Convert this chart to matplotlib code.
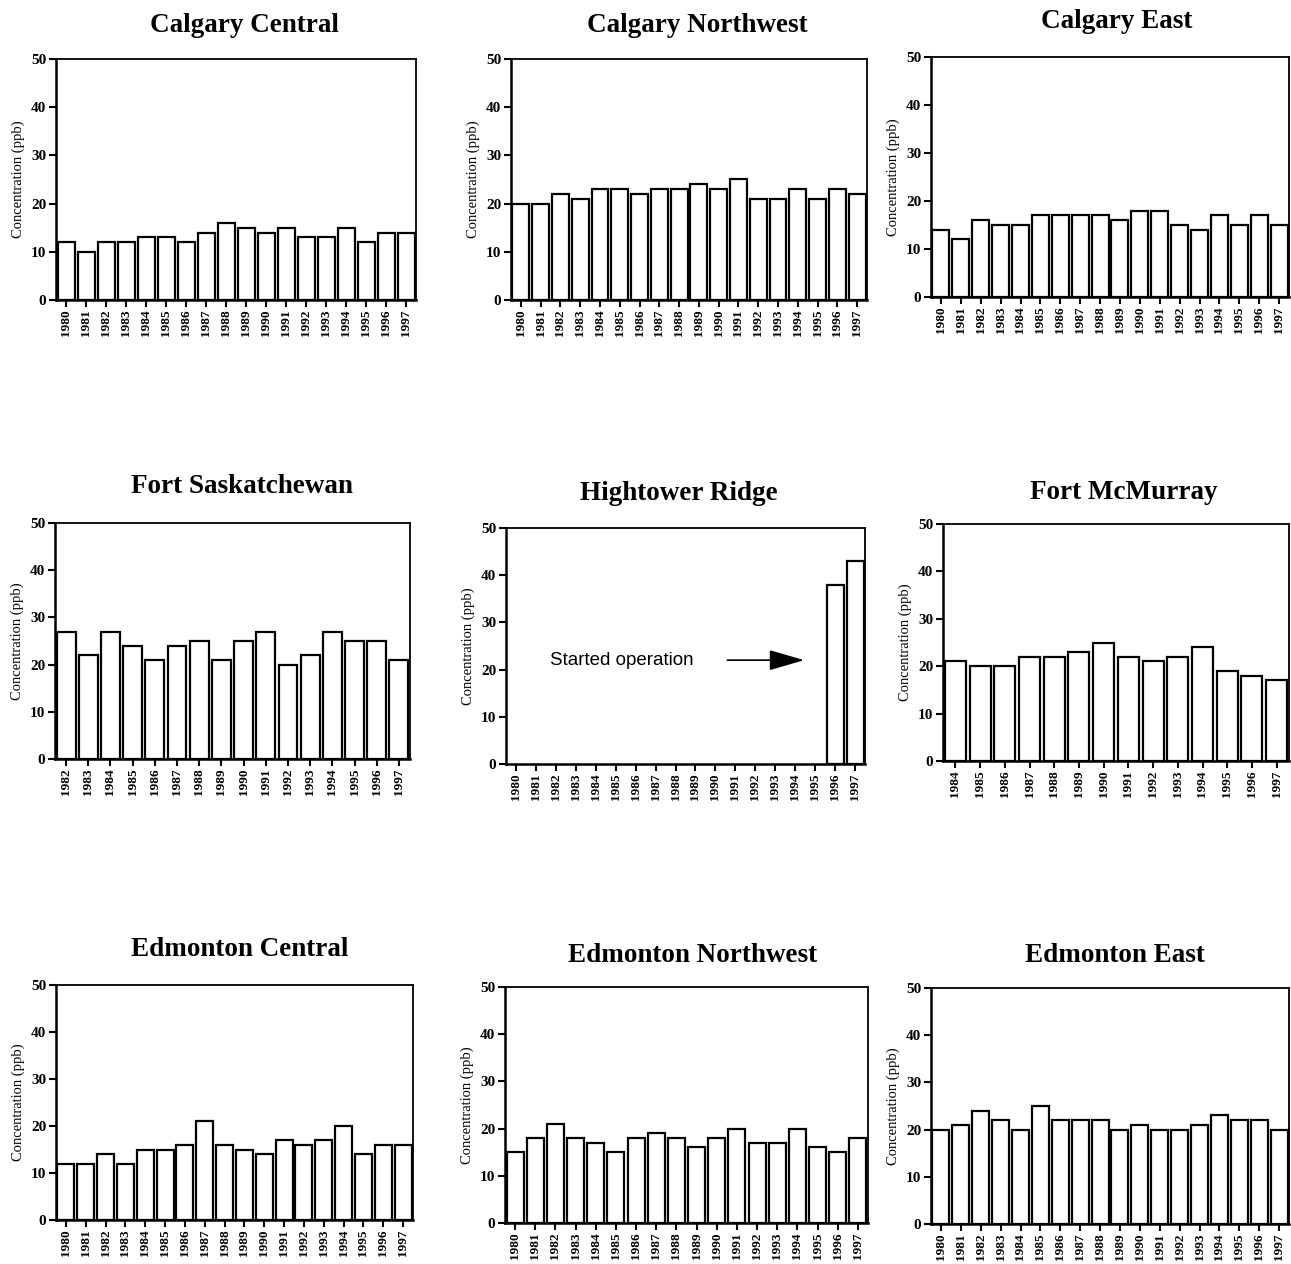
import matplotlib
matplotlib.use("Agg")
import matplotlib.pyplot as plt

# Annual ozone concentration (ppb) by monitoring station
years_full = [str(y) for y in range(1980, 1998)]
years_fs = [str(y) for y in range(1982, 1998)]
years_fm = [str(y) for y in range(1984, 1998)]

calgary_central = [12, 10, 12, 12, 13, 13, 12, 14, 16, 15, 14, 15, 13, 13, 15, 12, 14, 14]
calgary_northwest = [20, 20, 22, 21, 23, 23, 22, 23, 23, 24, 23, 25, 21, 21, 23, 21, 23, 22]
calgary_east = [14, 12, 16, 15, 15, 17, 17, 17, 17, 16, 18, 18, 15, 14, 17, 15, 17, 15]
fort_saskatchewan = [27, 22, 27, 24, 21, 24, 25, 21, 25, 27, 20, 22, 27, 25, 25, 21]
hightower_ridge = [None] * 16 + [38, 43]
fort_mcmurray = [21, 20, 20, 22, 22, 23, 25, 22, 21, 22, 24, 19, 18, 17]
edmonton_central = [12, 12, 14, 12, 15, 15, 16, 21, 16, 15, 14, 17, 16, 17, 20, 14, 16, 16]
edmonton_northwest = [15, 18, 21, 18, 17, 15, 18, 19, 18, 16, 18, 20, 17, 17, 20, 16, 15, 18]
edmonton_east = [20, 21, 24, 22, 20, 25, 22, 22, 22, 20, 21, 20, 20, 21, 23, 22, 22, 20]

yticks = [0, 10, 20, 30, 40, 50]

W, H = 1291, 1264
fig = plt.figure(figsize=(W / 100, H / 100), dpi=100)

serif = ["Liberation Serif", "DejaVu Serif"]
sans = ["Liberation Sans", "DejaVu Sans"]

# (title, labels, values, axes box in px [left, top, right, bottom], title centre px)
panels = [
    ("Calgary Central", years_full, calgary_central, (56, 59, 416, 300), (244, 25)),
    ("Calgary Northwest", years_full, calgary_northwest, (511, 59, 867, 300), (697, 25)),
    ("Calgary East", years_full, calgary_east, (931, 57, 1289, 297), (1117, 22)),
    ("Fort Saskatchewan", years_fs, fort_saskatchewan, (55, 523, 410, 759), (242, 487)),
    ("Hightower Ridge", years_full, hightower_ridge, (506, 528, 865, 764), (679, 494)),
    ("Fort McMurray", years_fm, fort_mcmurray, (943, 524, 1289, 761), (1124, 492)),
    ("Edmonton Central", years_full, edmonton_central, (56, 985, 413, 1220), (240, 950)),
    ("Edmonton Northwest", years_full, edmonton_northwest, (505, 987, 868, 1223), (693, 955)),
    ("Edmonton East", years_full, edmonton_east, (931, 988, 1289, 1224), (1115, 955)),
]

axes = {}
for title, labels, values, (l, t, r, b), (tx, ty) in panels:
    ax = fig.add_axes([l / W, 1 - b / H, (r - l) / W, (b - t) / H])
    axes[title] = ax
    x = list(range(len(labels)))
    xs = [xi for xi, v in zip(x, values) if v is not None]
    vs = [v for v in values if v is not None]
    ax.bar(xs, vs, width=0.85, color="white", edgecolor="black", linewidth=1.6, zorder=2)
    ax.set_xlim(-0.5, len(labels) - 0.5)
    ax.set_ylim(0, 50)
    ax.set_yticks(yticks)
    ax.set_yticklabels([str(v) for v in yticks], fontfamily=serif, fontweight="bold", fontsize=11)
    ax.set_xticks(x)
    ax.set_xticklabels(labels, rotation=90, fontfamily=serif, fontweight="bold", fontsize=9.5)
    ax.tick_params(axis="both", direction="out", length=5, width=1.5, pad=2, color="black")
    ax.set_ylabel("Concentration (ppb)", fontfamily=serif, fontsize=10.5, labelpad=4)
    for side in ("left", "bottom"):
        ax.spines[side].set_linewidth(1.8)
    for side in ("top", "right"):
        ax.spines[side].set_linewidth(1.3)
    fig.text(tx / W, 1 - ty / H, title, ha="center", va="center",
             fontfamily=serif, fontweight="bold", fontsize=19.5)

# Note for the station that began recording in 1996
hr = axes["Hightower Ridge"]
hr.text(1.7, 22, "Started operation", ha="left", va="center",
        fontfamily=sans, fontsize=13.5)
hr.annotate("", xy=(14.45, 22), xytext=(10.6, 22),
            arrowprops=dict(arrowstyle="-|>,head_length=1.1,head_width=0.32",
                            mutation_scale=20, lw=1.2, color="black",
                            shrinkA=0, shrinkB=0))

fig.savefig("out.png", dpi=100, facecolor="white")
